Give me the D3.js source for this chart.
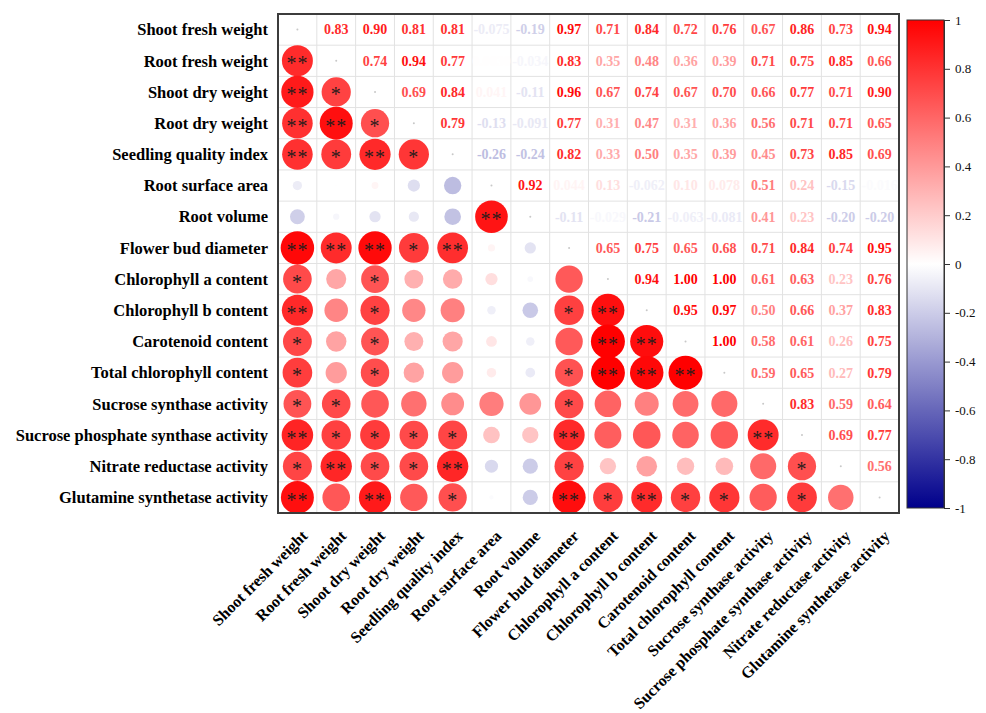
<!DOCTYPE html>
<html>
<head>
<meta charset="utf-8">
<script src="https://cdn.jsdelivr.net/npm/d3@7"></script>
<style>
  body { margin: 0; background: #fff; }
  text { font-family: "Liberation Serif", "Times New Roman", serif; }
</style>
</head>
<body>
<svg id="chart" width="986" height="713"></svg>
<script>
// Trait names (rows and columns share the same order)
const variables = [
  "Shoot fresh weight", "Root fresh weight", "Shoot dry weight", "Root dry weight",
  "Seedling quality index", "Root surface area", "Root volume", "Flower bud diameter",
  "Chlorophyll a content", "Chlorophyll b content", "Carotenoid content",
  "Total chlorophyll content", "Sucrose synthase activity",
  "Sucrose phosphate synthase activity", "Nitrate reductase activity",
  "Glutamine synthetase activity"
];

// Pearson coefficients, upper triangle: row i holds r(i, j) for j > i
const upperR = [
  [0.83, 0.90, 0.81, 0.81, -0.075, -0.19, 0.97, 0.71, 0.84, 0.72, 0.76, 0.67, 0.86, 0.73, 0.94],
  [0.74, 0.94, 0.77, 0.003, -0.034, 0.83, 0.35, 0.48, 0.36, 0.39, 0.71, 0.75, 0.85, 0.66],
  [0.69, 0.84, 0.041, -0.11, 0.96, 0.67, 0.74, 0.67, 0.70, 0.66, 0.77, 0.71, 0.90],
  [0.79, -0.13, -0.091, 0.77, 0.31, 0.47, 0.31, 0.36, 0.56, 0.71, 0.71, 0.65],
  [-0.26, -0.24, 0.82, 0.33, 0.50, 0.35, 0.39, 0.45, 0.73, 0.85, 0.69],
  [0.92, 0.044, 0.13, -0.062, 0.10, 0.078, 0.51, 0.24, -0.15, -0.016],
  [-0.11, -0.029, -0.21, -0.063, -0.081, 0.41, 0.23, -0.20, -0.20],
  [0.65, 0.75, 0.65, 0.68, 0.71, 0.84, 0.74, 0.95],
  [0.94, 1.00, 1.00, 0.61, 0.63, 0.23, 0.76],
  [0.95, 0.97, 0.50, 0.66, 0.37, 0.83],
  [1.00, 0.58, 0.61, 0.26, 0.75],
  [0.59, 0.65, 0.27, 0.79],
  [0.83, 0.59, 0.64],
  [0.69, 0.77],
  [0.56],
  []
];

// Significance marks, lower triangle: row i holds the mark for (i, j) with j < i
const significance = [
  [],
  ["**"],
  ["**", "*"],
  ["**", "**", "*"],
  ["**", "*", "**", "*"],
  ["", "", "", "", ""],
  ["", "", "", "", "", "**"],
  ["**", "**", "**", "*", "**", "", ""],
  ["*", "", "*", "", "", "", "", ""],
  ["**", "", "*", "", "", "", "", "*", "**"],
  ["*", "", "*", "", "", "", "", "", "**", "**"],
  ["*", "", "*", "", "", "", "", "*", "**", "**", "**"],
  ["*", "*", "", "", "", "", "", "*", "", "", "", ""],
  ["**", "*", "*", "*", "*", "", "", "**", "", "", "", "", "**"],
  ["*", "**", "*", "*", "**", "", "", "*", "", "", "", "", "", "*"],
  ["**", "", "**", "", "*", "", "", "**", "*", "**", "*", "*", "", "*", ""]
];

const colorTicks = [-1, -0.8, -0.6, -0.4, -0.2, 0, 0.2, 0.4, 0.6, 0.8, 1];

// Build full cell list from the triangles
const n = variables.length;
const corr = d3.range(n).map(() => new Array(n).fill(1));
upperR.forEach((row, i) => row.forEach((v, k) => {
  const j = i + 1 + k;
  corr[i][j] = v;
  corr[j][i] = v;
}));

const cells = [];
for (let i = 0; i < n; i++) {
  for (let j = 0; j < n; j++) {
    cells.push({ i, j, r: corr[i][j], part: j > i ? "upper" : (j < i ? "lower" : "diag") });
  }
}

const svg = d3.select("#chart");
const plotLeft = 278, plotRight = 899, plotTop = 14, plotBottom = 513;

const x = d3.scaleBand().domain(variables).range([plotLeft, plotRight]);
const y = d3.scaleBand().domain(variables).range([plotTop, plotBottom]);
const color = d3.scaleLinear().domain([-1, 0, 1]).range(["#00008b", "#ffffff", "#ff0000"]);
const radius = d3.scaleSqrt().domain([0, 1]).range([0, 17]);

const fmt = v => Math.abs(v) >= 0.1 ? v.toFixed(2) : v.toPrecision(2);

// Grid lines
const grid = svg.append("g");
grid.selectAll("line.v").data(d3.range(1, n)).join("line")
  .attr("x1", k => plotLeft + k * x.bandwidth()).attr("x2", k => plotLeft + k * x.bandwidth())
  .attr("y1", plotTop).attr("y2", plotBottom)
  .attr("stroke", "#e2e2e2").attr("stroke-width", 1);
grid.selectAll("line.h").data(d3.range(1, n)).join("line")
  .attr("y1", k => plotTop + k * y.bandwidth()).attr("y2", k => plotTop + k * y.bandwidth())
  .attr("x1", plotLeft).attr("x2", plotRight)
  .attr("stroke", "#e2e2e2").attr("stroke-width", 1);

const cx = d => x(variables[d.j]) + x.bandwidth() / 2;
const cy = d => y(variables[d.i]) + y.bandwidth() / 2;

// Lower triangle: circles sized by |r|
svg.append("g").selectAll("circle")
  .data(cells.filter(d => d.part === "lower"))
  .join("circle")
  .attr("cx", cx).attr("cy", cy)
  .attr("r", d => radius(Math.abs(d.r)))
  .attr("fill", d => color(d.r));

// Diagonal markers
svg.append("g").selectAll("circle")
  .data(cells.filter(d => d.part === "diag"))
  .join("circle")
  .attr("cx", cx).attr("cy", cy).attr("r", 1)
  .attr("fill", "#c8c8c8");

// Significance asterisks
svg.append("g").selectAll("text")
  .data(cells.filter(d => d.part === "lower" && significance[d.i][d.j]))
  .join("text")
  .attr("x", cx).attr("y", d => cy(d) + 9.5)
  .attr("text-anchor", "middle")
  .attr("font-size", 20)
  .attr("letter-spacing", 1)
  .attr("fill", "#2a1c1c")
  .text(d => significance[d.i][d.j]);

// Upper triangle: coefficient values
svg.append("g").selectAll("text")
  .data(cells.filter(d => d.part === "upper"))
  .join("text")
  .attr("x", cx).attr("y", cy)
  .attr("dy", "0.35em")
  .attr("text-anchor", "middle")
  .attr("font-size", 14)
  .attr("font-weight", "bold")
  .attr("fill", d => color(d.r))
  .text(d => fmt(d.r));

// Frame
svg.append("rect")
  .attr("x", plotLeft).attr("y", plotTop)
  .attr("width", plotRight - plotLeft).attr("height", plotBottom - plotTop)
  .attr("fill", "none").attr("stroke", "#3c3c3c").attr("stroke-width", 2);

// Row labels
svg.append("g").selectAll("text")
  .data(variables).join("text")
  .attr("x", plotLeft - 10)
  .attr("y", d => y(d) + y.bandwidth() / 2)
  .attr("dy", "0.35em")
  .attr("text-anchor", "end")
  .attr("font-size", 16.5)
  .attr("font-weight", "bold")
  .attr("fill", "#000")
  .text(d => d);

// Column labels, rotated
svg.append("g").selectAll("text")
  .data(variables).join("text")
  .attr("transform", d => `translate(${x(d) + x.bandwidth() / 2 + 11},${plotBottom + 24}) rotate(-45)`)
  .attr("text-anchor", "end")
  .attr("font-size", 16)
  .attr("font-weight", "bold")
  .attr("fill", "#000")
  .text(d => d);

// Color bar
const barX = 907, barW = 37, barTop = 20, barBottom = 508;
const defs = svg.append("defs");
const grad = defs.append("linearGradient").attr("id", "cbar")
  .attr("x1", 0).attr("y1", 1).attr("x2", 0).attr("y2", 0);
grad.selectAll("stop").data(d3.range(0, 1.0001, 0.05)).join("stop")
  .attr("offset", t => t)
  .attr("stop-color", t => color(-1 + 2 * t));

svg.append("rect")
  .attr("x", barX).attr("y", barTop)
  .attr("width", barW).attr("height", barBottom - barTop)
  .attr("fill", "url(#cbar)")
  .attr("stroke", "#333").attr("stroke-width", 1);

const cScale = d3.scaleLinear().domain([-1, 1]).range([barBottom, barTop]);
const cAxis = svg.append("g")
  .attr("transform", `translate(${barX + barW},0)`)
  .call(d3.axisRight(cScale).tickValues(colorTicks).tickSize(6).tickPadding(5)
    .tickFormat(v => String(Math.round(v * 10) / 10)));
cAxis.select(".domain").attr("stroke", "#333");
cAxis.selectAll(".tick line").attr("stroke", "#333");
cAxis.selectAll(".tick text")
  .attr("font-family", '"Liberation Serif", "Times New Roman", serif')
  .attr("font-size", 13).attr("fill", "#111");
</script>
</body>
</html>
